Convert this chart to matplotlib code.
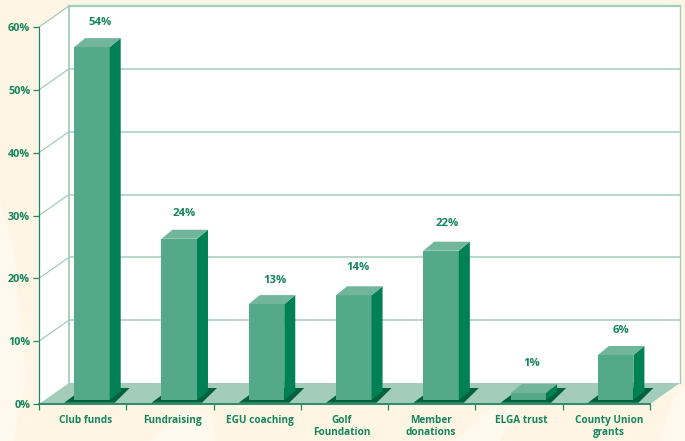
import numpy as np
from matplotlib import pyplot as plt
from matplotlib.patches import Polygon

categories = ['Club funds', 'Fundraising', 'EGU coaching', 'Golf\nFoundation',
              'Member\ndonations', 'ELGA trust', 'County Union\ngrants']
value_labels = ['54%', '24%', '13%', '14%', '22%', '1%', '6%']
# bar tops as drawn, the picture does not scale them exactly to their labels
bar_tops = np.array([56.8, 26.3, 15.9, 17.3, 24.4, 1.75, 7.8])
percent_ticks = [0, 10, 20, 30, 40, 50, 60]

CREAM = '#fef5e4'
PALE = '#fff8ec'
TEXT = '#14855c'
AXIS = '#1f8661'
WALL = '#a3cdba'
FLOOR = '#a3cdba'
FRONT = '#55a98b'
TOP = '#70b59c'
SIDE = '#008055'
SHADOW = '#00613f'

plt.rcParams['font.family'] = ['Open Sans', 'DejaVu Sans']

fig = plt.figure(figsize=(6.85, 4.41), dpi=100, facecolor=CREAM)
ax = fig.add_axes([39 / 685, 37 / 441, 611 / 685, 377 / 441])
ax.set_xlim(0, 7)
ax.set_ylim(0, 60)
ax.patch.set_alpha(0)

# one pixel in data units
px = 7 / 611
py = 60 / 377
depth_x = 30 * px
depth_y = 21 * py
wall_right = 7 + depth_x
wall_top = 60 + depth_y


def poly(points, color, z, **kw):
    ax.add_patch(Polygon(points, closed=True, facecolor=color, edgecolor='none',
                         clip_on=False, zorder=z, **kw))


# pale streaks in the page background
for pts in ([(0, 441), (14, 441), (26, 380), (14, 250), (0, 200)],
            [(150, 441), (215, 441), (212, 415), (188, 408)],
            [(455, 441), (500, 441), (520, 408), (490, 408)],
            [(660, 441), (685, 441), (685, 380), (670, 405)]):
    fig.add_artist(Polygon([(x / 685, 1 - y / 441) for x, y in pts], closed=True,
                           facecolor=PALE, edgecolor='none',
                           transform=fig.transFigure, zorder=0))

# back wall, left wall and floor
poly([(depth_x, depth_y), (wall_right, depth_y), (wall_right, wall_top), (depth_x, wall_top)], 'white', 1)
poly([(0, 0), (depth_x, depth_y), (depth_x, wall_top), (0, 60)], 'white', 1)
poly([(0, 0), (7, 0), (wall_right, depth_y), (depth_x, depth_y)], FLOOR, 2)

for tick in percent_ticks[1:]:
    ax.plot([depth_x, wall_right], [tick + depth_y, tick + depth_y], color=WALL, lw=1.1,
            clip_on=False, zorder=2)
    ax.plot([0, depth_x], [tick, tick + depth_y], color=WALL, lw=0.9, clip_on=False, zorder=2)
ax.plot([depth_x, depth_x], [depth_y, wall_top], color=WALL, lw=1.3, clip_on=False, zorder=2)
ax.plot([wall_right, wall_right], [depth_y, wall_top], color=WALL, lw=1.0, clip_on=False, zorder=2)
ax.plot([depth_x, wall_right], [wall_top, wall_top], color=WALL, lw=1.6, clip_on=False, zorder=2)

# bars
bar_w = 35.5 * px
bar_dx = 11 * px
bar_dy = 9 * py
base = 4 * py
centers = np.arange(len(categories)) + 0.5 + 9.3 * px
label_shift = [8, 4.5, 8.5, 4.5, 6, 3.5, 5.5]
label_gap = [25, 25, 24, 28, 27, 30, 24]
name_shift = [3.4, 3, 2.5, -2.5, -1, 2, 2.4]

for xc, top, txt, shift, gap in zip(centers, bar_tops, value_labels, label_shift, label_gap):
    x0 = xc - bar_w / 2
    x1 = xc + bar_w / 2
    poly([(x0 - 10 * px, 0.2), (x1 + 5 * px, 0.2), (x1 + 20 * px, 16 * py), (x0 + 10 * px, 16 * py)],
         SHADOW, 3)
    ax.bar(xc, top - base, bottom=base, width=bar_w, color=FRONT, clip_on=False, zorder=4)
    poly([(x1, base), (x1 + bar_dx, base + bar_dy), (x1 + bar_dx, top + bar_dy), (x1, top)], SIDE, 4)
    poly([(x0, top), (x1, top), (x1 + bar_dx, top + bar_dy), (x0 + bar_dx, top + bar_dy)], TOP, 4)
    ax.annotate(txt, (xc, top), xytext=(shift * 0.72, gap * 0.72), textcoords='offset points',
                ha='center', va='center', color=TEXT, fontsize=8.2, fontweight='bold',
                annotation_clip=False, zorder=5)

# axes
for side in ('top', 'right'):
    ax.spines[side].set_visible(False)
for side in ('left', 'bottom'):
    ax.spines[side].set_color(AXIS)
    ax.spines[side].set_zorder(6)
ax.spines['left'].set_linewidth(0.9)
ax.spines['bottom'].set_linewidth(1.3)

ax.set_yticks(percent_ticks, [f'{t}%' for t in percent_ticks])
ax.tick_params(axis='y', length=4.3, width=0.9, color=AXIS, labelcolor=TEXT, labelsize=7.8, pad=2)
for lab in ax.get_yticklabels():
    lab.set_fontweight('bold')

ax.set_xticks(np.arange(8))
ax.set_xticklabels([])
ax.tick_params(axis='x', which='major', length=4, width=0.9, color=AXIS)
ax.set_xticks(np.arange(7) + 0.5 + np.array(name_shift) * px, categories, minor=True)
ax.tick_params(axis='x', which='minor', length=0, labelcolor=TEXT, labelsize=7.2, pad=7.6)
for lab in ax.get_xticklabels(minor=True):
    lab.set_fontweight('bold')
    lab.set_linespacing(1.12)

fig.savefig('out.png', dpi=100, facecolor=fig.get_facecolor())
